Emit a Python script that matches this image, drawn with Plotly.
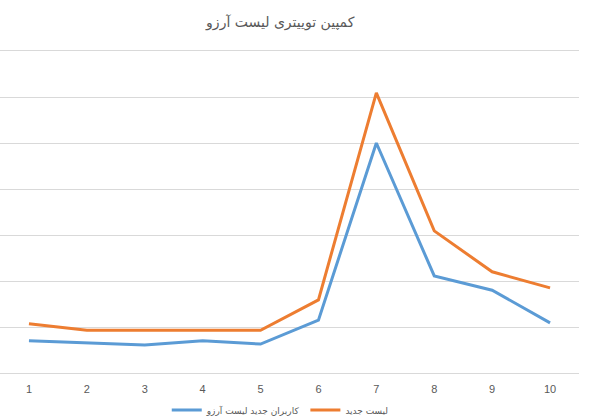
import plotly.graph_objects as go

# categories (days) and the two series
days = [1, 2, 3, 4, 5, 6, 7, 8, 9, 10]
new_users = [70, 65, 61, 70, 63, 115, 500, 211, 180, 109]
new_lists = [107, 93, 93, 93, 93, 159, 609, 309, 220, 185]

series_names = ["کاربران جدید لیست آرزو", "لیست جدید"]
chart_title = "کمپین توییتری لیست آرزو"

BLUE = "#5B9BD5"
ORANGE = "#ED7D31"
GRID = "#D9D9D9"
TEXT = "#595959"
FONT = "Liberation Sans, DejaVu Sans, sans-serif"

fig = go.Figure()

fig.add_trace(go.Scatter(
    x=days, y=new_users, name=series_names[0],
    mode="lines", line=dict(color=BLUE, width=3)
))
fig.add_trace(go.Scatter(
    x=days, y=new_lists, name=series_names[1],
    mode="lines", line=dict(color=ORANGE, width=3)
))

fig.update_layout(
    width=590, height=420,
    margin=dict(l=0, r=11, t=51, b=47),
    paper_bgcolor="white",
    plot_bgcolor="white",
    font=dict(family=FONT, color=TEXT, size=11),
    title=dict(
        text=chart_title,
        x=0.475, xref="container", xanchor="center",
        y=1 - 22 / 420, yref="container", yanchor="middle",
        font=dict(family="DejaVu Sans, sans-serif", size=14, color=TEXT)
    ),
    showlegend=True,
    legend=dict(
        orientation="h",
        x=0.475, xref="container", xanchor="center",
        y=1 - 410 / 420, yref="container", yanchor="middle",
        font=dict(family="DejaVu Sans, sans-serif", size=9, color=TEXT),
        itemwidth=30
    ),
    hovermode=False
)

fig.update_xaxes(
    range=[0.5, 10.5],
    tickmode="array", tickvals=days, ticktext=[str(d) for d in days],
    showgrid=False, zeroline=False,
    showline=True, linecolor=GRID, linewidth=1, mirror=True,
    ticks="", ticklabelstandoff=6,
    tickfont=dict(size=11, color=TEXT)
)
fig.update_yaxes(
    range=[0, 700], dtick=100,
    showgrid=True, gridcolor=GRID, gridwidth=1,
    zeroline=True, zerolinecolor=GRID, zerolinewidth=1,
    showticklabels=False, ticks="", showline=False
)

# drop the default 8px page margin so the figure sits at the window's corner
fig.write_html("out.html", config={"displayModeBar": False},
               post_script="document.body.style.margin='0';")
